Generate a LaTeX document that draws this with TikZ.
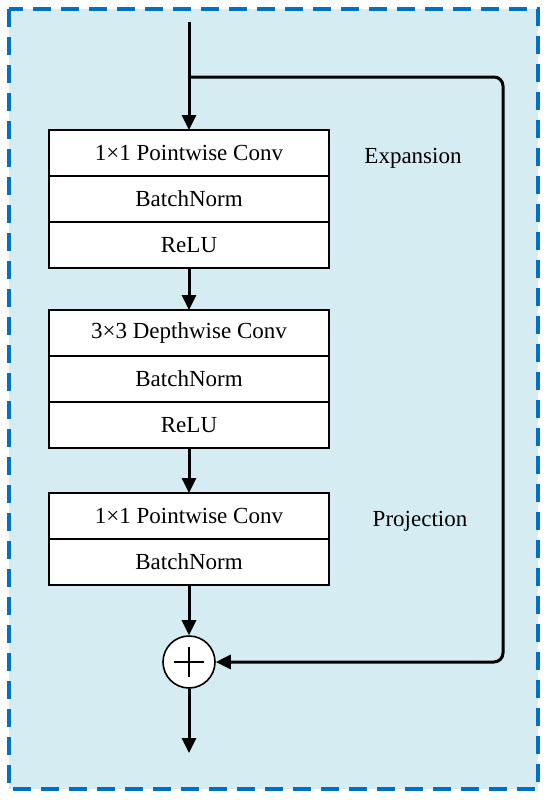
\documentclass[tikz,border=0pt]{standalone}
\usepackage{fontspec}
\setmainfont{Liberation Serif}
\usetikzlibrary{arrows.meta,positioning}
\definecolor{BLOCK-BG}{RGB}{213,237,242}
\definecolor{BLOCK-EDGE}{RGB}{0,112,192}
\tikzset{
  layer/.style={draw, fill=white, line width=1.6pt, minimum width=280pt,
    minimum height=46pt, inner sep=0pt, outer sep=0pt,
    font=\fontsize{23}{27}\selectfont},
  flow/.style={line width=3pt, -{Triangle[length=15pt,width=14pt]}},
  stage/.style={font=\fontsize{23}{27}\selectfont},
}

\begin{document}
\begin{tikzpicture}[x=1pt,y=-1pt]
  \useasboundingbox (0,0) rectangle (550,800);
  % dashed block outline
  \draw[fill=BLOCK-BG, draw=BLOCK-EDGE, line width=3.2pt,
    dash pattern=on 18pt off 10pt] (9,9) rectangle (538,789);

  % Expansion stage
  \node[layer] (pw1) at (189,153) {1×1 Pointwise Conv};
  \node[layer, below=0pt of pw1] (bn1) {BatchNorm};
  \node[layer, below=0pt of bn1] (relu1) {ReLU};
  \node[stage] (expand) at (413,158) {Expansion};

  % Depthwise stage
  \node[layer] (dw) at (189,333) {3×3 Depthwise Conv};
  \node[layer, below=0pt of dw] (bn2) {BatchNorm};
  \node[layer, below=0pt of bn2] (relu2) {ReLU};

  % Projection stage
  \node[layer] (pw2) at (189,516) {1×1 Pointwise Conv};
  \node[layer, below=0pt of pw2] (bn3) {BatchNorm};
  \node[stage] (project) at (420,521) {Projection};

  % residual sum
  \node[circle, draw, fill=white, line width=1.6pt, minimum size=52pt] (add) at (189,662) {};
  \draw[line width=1.3pt] ([xshift=-15pt]add.center) -- ([xshift=15pt]add.center);
  \draw[line width=1.3pt] ([yshift=-15pt]add.center) -- ([yshift=15pt]add.center);

  \coordinate (in) at (189,22);
  \coordinate (split) at (189,77);
  \coordinate (skip) at (503,77);
  \coordinate (out) at (189,753);

  % main path
  \draw[flow] (in) -- (pw1.north);
  \draw[flow] (relu1.south) -- (dw.north);
  \draw[flow] (relu2.south) -- (pw2.north);
  \draw[flow] (bn3.south) -- (add.north);
  \draw[flow] (add.south) -- (out);

  % shortcut
  \draw[flow, rounded corners=9pt] (split) -- (skip) |- (add.east);
\end{tikzpicture}
\end{document}
